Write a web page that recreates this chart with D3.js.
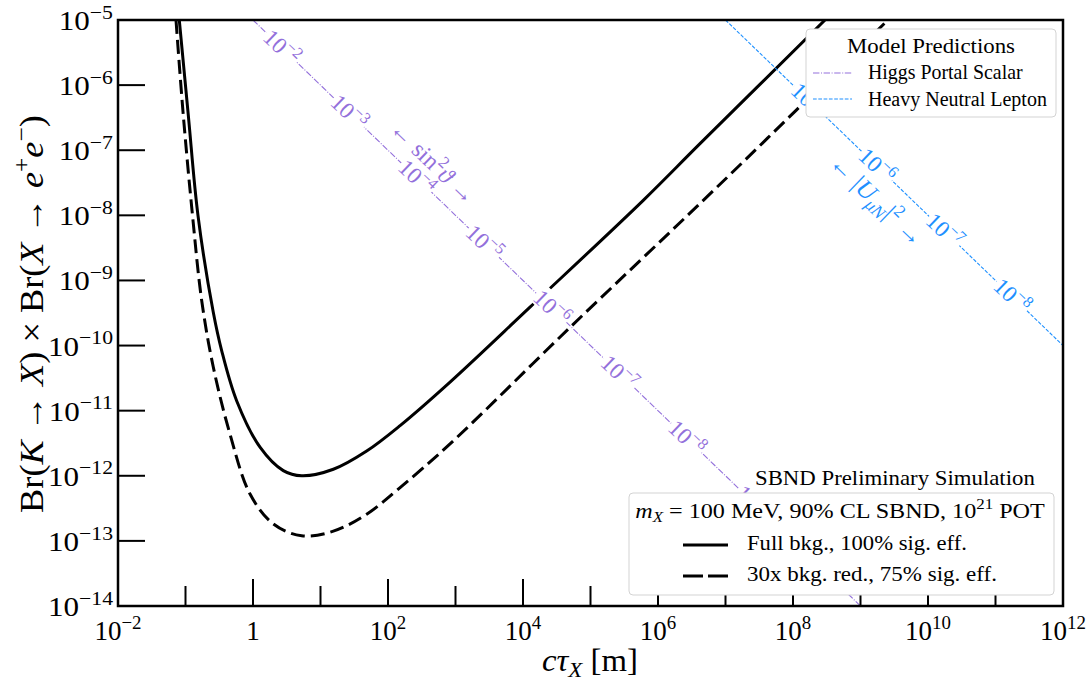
<!DOCTYPE html>
<html><head><meta charset="utf-8">
<script src="https://cdn.jsdelivr.net/npm/d3@7"></script>
<style>
body{margin:0;background:#fff}
svg{display:block}
text{font-family:"Liberation Serif","DejaVu Serif",serif;fill:#000}
</style>
</head><body>
<svg id="c" width="1091" height="683"></svg>
<script>
// ---------------- data ----------------
// Full bkg., 100% sig. eff. (solid)
const solidCtau = [0.0809, 0.110, 0.153, 0.258, 0.344, 0.574, 1.27, 2.81, 5.26, 15.5, 48.3, 151, 830, 1.27e4, 6.05e5, 4.19e6, 2.98e8];
const solidBr   = [1e-5, 3.47e-7, 1e-8, 3.24e-10, 8.3e-11, 1.41e-11, 2.75e-12, 1.2e-12, 1.0e-12, 1.26e-12, 2.4e-12, 5.9e-12, 2.75e-11, 3.89e-10, 1.7e-8, 1.26e-7, 1e-5];
// 30x bkg. red., 75% sig. eff. (dashed)
const dashedCtau = [0.0723, 0.0927, 0.127, 0.1738, 0.258, 0.456, 0.904, 2.0, 5.26, 15.5, 48.3, 151, 830, 4.97e4, 4.69e6, 1.13e8, 2.55e9];
const dashedBr   = [1e-5, 3.47e-7, 1e-8, 4.9e-10, 4.68e-11, 4.37e-12, 5.25e-13, 1.82e-13, 1.2e-13, 1.41e-13, 2.57e-13, 6.6e-13, 3.09e-12, 1.9e-10, 1.7e-8, 4.17e-7, 1e-5];
// Model prediction lines
const higgsCtau = [1, 1e9];
const higgsBr   = [1e-5, 1e-14];
const hnlCtau   = [1e7, 1e12];
const hnlBr     = [1e-5, 1e-10];
// contour labels along the model lines
const higgsLabelExp  = [-2, -3, -4, -5, -6, -7, -8, -9];
const higgsLabelCtau = [2.63, 26.3, 263, 2.63e3, 2.63e4, 2.63e5, 2.63e6, 2.63e7];
const higgsLabelBr   = [3.8e-6, 3.8e-7, 3.8e-8, 3.8e-9, 3.8e-10, 3.8e-11, 3.8e-12, 3.8e-13];
const hnlLabelExp    = [-5, -6, -7, -8];
const hnlLabelCtau   = [1.74e8, 1.74e9, 1.74e10, 1.74e11];
const hnlLabelBr     = [5.75e-7, 5.75e-8, 5.75e-9, 5.75e-10];
const higgsNameCtau = 464, higgsNameBr = 6.5e-8;
const hnlNameCtau = 1.75e9, hnlNameBr = 1.7e-8;
// ticks
const xMajorExp = [-2, 0, 2, 4, 6, 8, 10, 12];
const xMinorExp = [-1, 1, 3, 5, 7, 9, 11];
const yTickExp  = [-5, -6, -7, -8, -9, -10, -11, -12, -13, -14];

// ---------------- layout ----------------
const svg = d3.select('#c');
const m = {l:118, r:1063, t:20, b:606};
const x = d3.scaleLog().domain([1e-2, 1e12]).range([m.l, m.r]);
const y = d3.scaleLog().domain([1e-14, 1e-5]).range([m.b, m.t]);
const PURPLE = '#9370DB', BLUE = '#1E90FF';

function rich(t, parts, fs){
  let shift = 0;
  parts.forEach(([s, k]) => {
    const ts = t.append('tspan').text(s);
    let target = 0, size = fs;
    if (k.includes('sup')) { target = -0.42*fs; size = 0.7*fs; }
    if (k.includes('sub')) { target = 0.2*fs; size = 0.7*fs; }
    ts.attr('dy', target - shift).attr('font-size', size);
    if (k.includes('i')) ts.attr('font-style', 'italic');
    shift = target;
  });
}
function fit(t, target, ax, ay){
  const w = t.node().getBBox().width;
  scaleX(t, target / w, ax, ay);
}
function scaleX(t, k, ax, ay){
  t.attr('transform', `translate(${ax},${ay}) scale(${k},1) translate(${-ax},${-ay})`);
}
function powParts(e){ return e === 0 ? [['1','']] : (e<0 ? [['10',''], ['\u2212'+Math.abs(e),'sup']] : [['10',''], [String(e),'sup']]); }

svg.append('defs').append('clipPath').attr('id','clip')
  .append('rect').attr('x', m.l).attr('y', m.t).attr('width', m.r-m.l).attr('height', m.b-m.t);
const plot = svg.append('g').attr('clip-path', 'url(#clip)');

const zip = (a, b) => a.map((v, i) => [v, b[i]]);
const curve = d3.line().x(d => x(d[0])).y(d => y(d[1])).curve(d3.curveCatmullRom.alpha(0.5));
const straight = d3.line().x(d => x(d[0])).y(d => y(d[1]));

// sensitivity curves
plot.append('path').attr('d', curve(zip(solidCtau, solidBr)))
  .attr('fill','none').attr('stroke','#000').attr('stroke-width',3);
plot.append('path').attr('d', curve(zip(dashedCtau, dashedBr)))
  .attr('fill','none').attr('stroke','#000').attr('stroke-width',3).attr('stroke-dasharray','14,6');

// model lines
plot.append('path').attr('d', straight(zip(higgsCtau, higgsBr)))
  .attr('fill','none').attr('stroke',PURPLE).attr('stroke-width',1.1).attr('stroke-dasharray','6.4,1.6,1,1.6');
plot.append('path').attr('d', straight(zip(hnlCtau, hnlBr)))
  .attr('fill','none').attr('stroke',BLUE).attr('stroke-width',1.1).attr('stroke-dasharray','3.7,1.6');

function angleOf(cs, bs){
  return Math.atan2(y(bs[1]) - y(bs[0]), x(cs[1]) - x(cs[0])) * 180 / Math.PI;
}
function label(g, cx, cy, ang, color, parts, fs, bg){
  const gg = g.append('g').attr('transform', `translate(${cx},${cy}) rotate(${ang})`);
  const r = gg.append('rect');
  const t = gg.append('text').attr('text-anchor','middle').attr('y', fs*0.33).style('fill', color).attr('font-size', fs);
  rich(t, parts, fs);
  if (bg) {
    const bb = t.node().getBBox();
    r.attr('x', bb.x-1).attr('y', bb.y+3).attr('width', bb.width+2).attr('height', bb.height-6).attr('fill','#fff');
  }
  return gg;
}
const aH = angleOf(higgsCtau, higgsBr), aN = angleOf(hnlCtau, hnlBr);
higgsLabelExp.forEach((e, i) => label(plot, x(higgsLabelCtau[i]), y(higgsLabelBr[i]), aH, PURPLE, powParts(e), 23, true));
hnlLabelExp.forEach((e, i) => label(plot, x(hnlLabelCtau[i]), y(hnlLabelBr[i]), aN, BLUE, powParts(e), 23, true));
label(plot, x(higgsNameCtau), y(higgsNameBr), aH, PURPLE,
  [['\u2190 sin',''], ['2','sup'], ['\u03D1','i'], [' \u2192','']], 24, false);
label(plot, x(hnlNameCtau), y(hnlNameBr), aN, BLUE,
  [['\u2190 |',''], ['U','i'], ['\u03BCN','isub'], ['|',''], ['2','sup'], [' \u2192','']], 25, false);

// ---------------- axes ----------------
const ax = svg.append('g');
ax.selectAll('.ymaj').data(yTickExp).join('line')
  .attr('x1', m.l).attr('x2', m.l+27).attr('y1', d => y(Math.pow(10,d))).attr('y2', d => y(Math.pow(10,d)))
  .attr('stroke','#000').attr('stroke-width',2);
ax.selectAll('.xmaj').data(xMajorExp).join('line')
  .attr('x1', d => x(Math.pow(10,d))).attr('x2', d => x(Math.pow(10,d))).attr('y1', m.b).attr('y2', m.b-27)
  .attr('stroke','#000').attr('stroke-width',2);
ax.selectAll('.xmin').data(xMinorExp).join('line')
  .attr('x1', d => x(Math.pow(10,d))).attr('x2', d => x(Math.pow(10,d))).attr('y1', m.b).attr('y2', m.b-20)
  .attr('stroke','#000').attr('stroke-width',2);

yTickExp.forEach(e => {
  const yy = y(Math.pow(10,e)) + 10;
  const t = ax.append('text').attr('x', 113).attr('y', yy)
    .attr('text-anchor','end').attr('font-size', 27);
  rich(t, powParts(e), 27);
  scaleX(t, 1.15, 113, yy);
});
xMajorExp.forEach(e => {
  const t = ax.append('text').attr('x', x(Math.pow(10,e))).attr('y', 640)
    .attr('text-anchor','middle').attr('font-size', 27);
  rich(t, powParts(e), 27);
});

// axis titles
const yl = svg.append('g').attr('transform','translate(43,314) rotate(-90)')
  .append('text').attr('text-anchor','middle').attr('font-size',33);
rich(yl, [['Br(',''],['K','i'],[' \u2192 ',''],['X','i'],[') \u00D7 Br(',''],['X','i'],[' \u2192 ',''],['e','i'],['+','sup'],['e','i'],['\u2212','sup'],[')','']], 33);
fit(yl, 398, 0, 0);

const xl = svg.append('text').attr('x', 590).attr('y', 671).attr('text-anchor','middle').attr('font-size',31);
rich(xl, [['c','i'],['\u03C4','i'],['X','isub'],[' [m]','']], 31);
fit(xl, 96, 590, 671);

// ---------------- legends ----------------
const lg1 = svg.append('g');
lg1.append('rect').attr('x',806).attr('y',29).attr('width',250).attr('height',88).attr('rx',4)
  .attr('fill','#fff').attr('stroke','#d3d3d3').attr('stroke-width',1);
const t1 = lg1.append('text').attr('x',931).attr('y',53).attr('text-anchor','middle').attr('font-size',21).text('Model Predictions');
fit(t1, 168, 931, 53);
lg1.append('line').attr('x1',813).attr('x2',852).attr('y1',73).attr('y2',73)
  .attr('stroke',PURPLE).attr('stroke-width',1.1).attr('stroke-dasharray','6.4,1.6,1,1.6');
lg1.append('line').attr('x1',813).attr('x2',852).attr('y1',99).attr('y2',99)
  .attr('stroke',BLUE).attr('stroke-width',1.1).attr('stroke-dasharray','3.7,1.6');
const t2 = lg1.append('text').attr('x',868).attr('y',79).attr('font-size',20).text('Higgs Portal Scalar');
fit(t2, 155, 868, 79);
const t3 = lg1.append('text').attr('x',868).attr('y',106).attr('font-size',20).text('Heavy Neutral Lepton');
fit(t3, 179, 868, 106);

const sb = svg.append('text').attr('x',755).attr('y',485).attr('font-size',22).text('SBND Preliminary Simulation');
fit(sb, 280, 755, 485);

const lg2 = svg.append('g');
lg2.append('rect').attr('x',629).attr('y',493).attr('width',425).attr('height',102).attr('rx',4)
  .attr('fill','#fff').attr('stroke','#d3d3d3').attr('stroke-width',1);
const t4 = lg2.append('text').attr('x',840).attr('y',518).attr('text-anchor','middle').attr('font-size',21);
rich(t4, [['m','i'],['X','isub'],[' = 100 MeV,  90% CL SBND,  10',''],['21','sup'],[' POT','']], 21);
fit(t4, 410, 840, 518);
lg2.append('line').attr('x1',683).attr('x2',728).attr('y1',545).attr('y2',545).attr('stroke','#000').attr('stroke-width',3);
lg2.append('line').attr('x1',683).attr('x2',728).attr('y1',576).attr('y2',576).attr('stroke','#000').attr('stroke-width',3).attr('stroke-dasharray','20,5');
const t5 = lg2.append('text').attr('x',747).attr('y',550).attr('font-size',21).text('Full bkg.,  100% sig. eff.');
fit(t5, 220, 747, 550);
const t6 = lg2.append('text').attr('x',747).attr('y',581).attr('font-size',21).text('30x bkg. red.,  75% sig. eff.');
fit(t6, 250, 747, 581);

// frame
svg.append('rect').attr('x',m.l).attr('y',m.t).attr('width',m.r-m.l).attr('height',m.b-m.t)
  .attr('fill','none').attr('stroke','#000').attr('stroke-width',2.5);
</script>
</body></html>
